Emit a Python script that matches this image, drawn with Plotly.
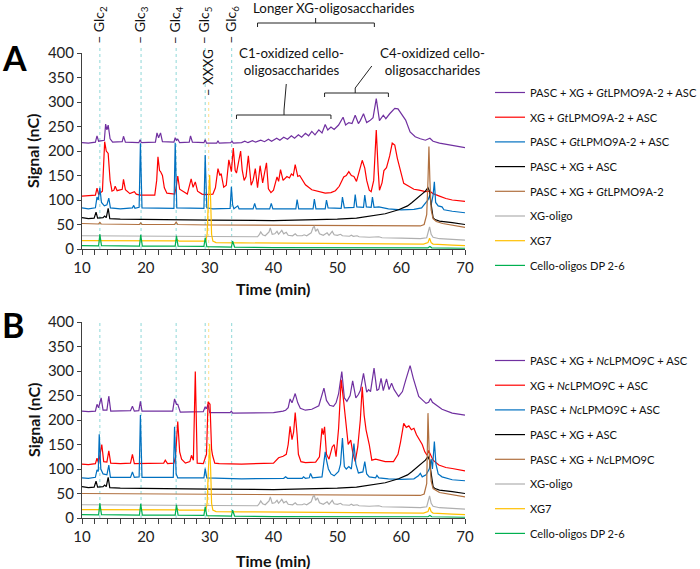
import plotly.graph_objects as go

# ---------------- data (time min, signal nC) ----------------
A_PURPLE = [(10,217),(11,216),(12.1,218),(12.35,231),(12.6,220),(13.5,222),(13.7,255),(13.9,243),(14.1,253),(14.4,225),(14.8,218),(16.3,219),(16.5,230),(16.8,218),(18.9,217),(19.1,223),(19.3,217),(21.5,218),(21.75,237),(22.0,227),(22.3,237),(22.6,219),(24.4,218),(24.6,227),(24.8,222),(25.0,224),(25.3,217),(26.8,218),(27.0,231),(27.3,218),(29.1,217),(29.3,223),(29.5,216),(31.1,216),(31.3,221),(31.5,216),(33.3,217),(33.5,220),(33.7,216),(35,217),(35.5,220),(36,217),(36.7,221),(37.2,218),(38.0,222),(38.6,219),(39.2,224),(39.7,220),(40.5,226),(41,222),(41.6,228),(42.2,224),(42.8,231),(43.3,226),(43.9,233),(44.4,228),(45,236),(45.5,231),(46,240),(46.5,233),(47.1,243),(47.6,237),(48.1,254),(48.5,243),(49.0,249),(49.5,244),(50.2,253),(50.9,269),(51.3,253),(51.8,258),(52.3,256),(52.8,273),(53.3,256),(53.6,262),(54.1,276),(54.6,258),(55.1,262),(55.6,268),(56.1,307),(56.6,262),(57.2,273),(57.6,266),(58.2,276),(59.0,287),(59.5,286),(60.0,276),(60.7,263),(61.4,239),(62.2,229),(63.0,225),(63.8,222),(64.5,226),(65.0,220),(66,216),(67,214),(68,212),(69,209),(70,207)]
A_RED = [(10,108),(11,109),(12.1,110),(12.35,124),(12.6,112),(13.2,118),(13.55,219),(13.8,200),(14.1,195),(14.4,140),(14.7,118),(15.0,120),(15.2,128),(15.5,119),(16.3,122),(16.5,142),(16.8,121),(17.5,113),(18.2,117),(18.5,112),(19.1,110),(21.4,110),(21.7,140),(21.9,188),(22.15,160),(22.3,158),(22.6,150),(22.9,125),(23.3,114),(24.5,112),(24.75,125),(25.0,149),(25.3,122),(26.5,112),(26.9,130),(27.1,143),(27.4,126),(27.75,137),(28.1,118),(28.8,112),(29.2,111),(30.5,112),(30.9,125),(31.3,164),(31.6,150),(31.8,154),(32.2,126),(32.6,130),(33.0,182),(33.25,165),(33.4,158),(33.7,206),(34.0,160),(34.2,155),(34.5,180),(34.85,200),(35.1,161),(35.4,140),(35.7,148),(36.06,190),(36.5,130),(36.8,140),(37.15,164),(37.5,125),(37.9,170),(38.3,135),(38.9,176),(39.2,123),(39.6,115),(40.0,120),(40.55,147),(40.8,138),(41.1,162),(41.5,140),(42.1,148),(42.5,145),(42.8,153),(43.1,150),(43.4,172),(43.8,148),(44.1,150),(44.5,141),(45.0,131),(46.0,121),(47,117),(48.1,114),(49.0,115),(49.7,119),(50.3,128),(50.6,135),(51.0,147),(51.4,150),(51.8,158),(52.2,150),(52.6,148),(53.0,138),(53.5,165),(53.9,181),(54.3,165),(54.6,140),(55.0,120),(55.3,117),(55.7,140),(56.1,243),(56.4,160),(56.6,120),(57.0,135),(57.3,160),(57.7,166),(58.2,190),(58.6,216),(59.0,212),(59.4,185),(59.9,160),(60.4,134),(61.2,128),(62.0,122),(62.8,120),(63.8,117),(64.5,118),(65.0,113),(66,108),(67,103),(68,100),(69,98),(70,97)]
A_BLUE = [(10,84),(11,82),(12.1,84),(12.35,106),(12.55,100),(12.8,125),(13.05,95),(13.5,88),(13.9,90),(14.2,104),(14.45,84),(16,82),(17.9,84),(18.1,89),(18.3,83),(18.95,85),(19.15,216),(19.4,84),(24.4,83),(24.6,217),(24.85,84),(29.1,83),(29.3,192),(29.55,84),(30.5,82),(33.2,83),(33.4,127),(33.6,90),(33.8,82),(34.4,88),(34.6,82),(36.8,82),(37.05,93),(37.3,82),(39.4,82),(39.65,93),(39.9,82),(43.5,82),(43.7,101),(43.95,82),(46.2,82),(46.4,102),(46.65,82),(48.1,82),(48.3,100),(48.55,84),(50.6,83),(50.8,106),(51.1,84),(52.6,85),(52.8,111),(53.05,86),(54.1,85),(54.3,110),(54.55,86),(55.3,85),(55.5,106),(55.75,85),(56.5,86),(58,82),(60,80),(62,81),(63.2,84),(63.8,93),(64.2,100),(64.5,110),(64.7,90),(65.0,110),(65.2,137),(65.4,95),(65.8,88),(66.4,86),(66.7,80),(68,77),(70,74)]
A_BROWN = [(10,52),(12.6,51),(12.8,54),(13.0,51),(19.0,50),(19.2,53),(19.4,50),(24.5,50),(24.75,55),(25.0,50),(30,49),(40,48),(50,47),(60,46),(62,46),(63,47),(63.6,50),(64.0,70),(64.2,140),(64.35,209),(64.5,140),(64.7,80),(65.0,62),(65.5,56),(66.5,52),(68,48),(70,44)]

B_PURPLE = [(10,218),(11,217),(12.1,218),(12.35,232),(12.6,225),(12.8,235),(13.0,245),(13.3,220),(13.9,220),(14.2,249),(14.5,218),(17.6,219),(17.9,228),(18.2,218),(18.9,219),(19.15,238),(19.4,218),(24.2,218),(24.5,243),(24.8,232),(25.0,232),(25.4,216),(29.0,217),(29.3,227),(29.5,223),(29.75,232),(30.0,215),(33.2,215),(33.4,218),(33.6,214),(40,215),(41.5,218),(41.9,220),(42.3,225),(42.6,243),(42.9,235),(43.4,254),(43.8,235),(44.2,224),(45,220),(46,222),(47.1,229),(47.5,245),(47.9,265),(48.3,240),(48.8,230),(49.4,228),(49.8,235),(50.2,254),(50.7,299),(51.1,245),(51.5,238),(52.0,250),(52.4,280),(52.9,245),(53.3,252),(53.6,260),(54.1,295),(54.6,257),(54.9,262),(55.2,258),(55.75,306),(56.2,260),(56.5,263),(56.85,285),(57.2,260),(57.7,284),(58.1,262),(58.5,275),(58.9,262),(59.6,248),(60.2,258),(60.7,281),(61.4,311),(61.9,285),(62.3,265),(62.75,248),(63.4,240),(63.9,234),(64.3,236),(64.6,244),(64.9,236),(65.3,232),(66.4,222),(68,214),(70,210)]
B_RED = [(10,110),(11,109),(12.1,111),(12.35,122),(12.6,112),(13.1,150),(13.4,115),(13.9,114),(14.2,137),(14.5,112),(16,111),(17.6,112),(17.9,130),(18.2,111),(22.8,112),(23.05,118),(23.4,111),(24.4,112),(24.65,125),(25.0,197),(25.3,135),(25.6,120),(26.2,112),(26.9,115),(27.15,128),(27.45,118),(27.75,299),(28.05,112),(29.0,111),(29.5,130),(29.75,237),(30.05,232),(30.3,140),(30.45,128),(30.8,112),(31.5,111),(35,110),(40,112),(40.8,123),(41.5,126),(42.0,130),(42.3,150),(42.6,187),(42.9,160),(43.15,175),(43.4,215),(43.7,170),(43.9,130),(44.3,115),(45,113),(46.6,114),(47.2,125),(47.6,183),(47.8,170),(48.0,186),(48.3,130),(48.7,120),(49.2,145),(49.5,150),(49.8,125),(50.2,183),(50.6,282),(51.0,237),(51.4,190),(51.7,150),(52.1,159),(52.4,135),(52.8,115),(53.2,145),(53.6,200),(53.9,268),(54.2,210),(54.5,180),(55.0,150),(55.4,118),(56.0,120),(56.6,118),(57.5,115),(58.8,115),(59.5,130),(59.9,155),(60.4,193),(60.8,185),(61.2,188),(61.6,180),(62.0,183),(62.4,170),(62.75,162),(63.3,150),(63.7,135),(64.05,128),(64.3,138),(64.6,130),(65.0,118),(65.9,108),(67,103),(68,101),(70,96)]
B_BLUE = [(10,82),(11,81),(12.1,83),(12.35,98),(12.55,95),(12.7,171),(12.95,100),(13.3,90),(13.9,88),(14.2,108),(14.45,83),(17.6,83),(17.9,94),(18.2,83),(18.95,84),(19.15,210),(19.4,83),(24.3,83),(24.5,186),(24.75,90),(25.0,82),(29.1,82),(29.3,101),(29.55,82),(35,80),(41.6,81),(41.9,84),(42.2,81),(44.5,81),(44.7,84),(45.0,81),(45.6,82),(45.8,91),(46.1,82),(47.6,84),(47.9,110),(48.1,135),(48.3,118),(48.6,100),(49.0,90),(49.5,86),(50.2,95),(50.5,110),(50.8,163),(51.1,105),(51.4,100),(51.8,105),(52.2,100),(52.6,152),(52.9,110),(53.3,92),(54.0,94),(54.3,115),(54.6,90),(55.0,84),(56.0,82),(56.2,87),(56.5,82),(58,80),(60,79),(62,80),(62.7,86),(63.0,91),(63.3,84),(63.9,88),(64.4,100),(64.7,120),(64.9,100),(65.2,156),(65.45,110),(65.8,90),(66.4,84),(68,78),(70,76)]
B_BROWN = [(10,50),(20,49),(30,48),(40,47),(50,46),(60,45),(63,46),(63.6,49),(64.0,70),(64.2,214),(64.4,130),(64.7,75),(65.0,60),(66,52),(68,47),(70,43)]

CTRL_BLACK = [(10,64),(11,62),(11.9,63),(12.2,75),(12.45,63),(13.3,64),(13.55,67),(13.8,64),(14.1,83),(14.35,62),(16,61),(20,60),(25,60),(30,59),(40,58),(45,59),(50,61),(53,63),(55.4,67),(57.5,72),(59.6,80),(61,88),(61.7,95),(62.5,104),(63.3,112),(63.8,118),(64.2,125),(64.45,118),(64.6,100),(64.8,75),(65.0,64),(65.3,60),(66,57),(68,54),(70,50)]
XG_OLIGO = [(10,27),(20,26),(30,25),(37.5,25),(37.8,30),(38.0,35),(38.3,29),(38.7,27),(39.3,35),(39.5,43),(39.8,30),(40.2,31),(40.55,36),(40.8,30),(41.3,38),(41.6,31),(42.0,34),(42.3,28),(43.0,27),(43.4,31),(43.7,27),(44.5,27),(44.8,29),(45.2,27),(45.9,33),(46.2,44),(46.4,46),(46.6,36),(46.9,41),(47.2,31),(47.8,28),(48.4,33),(48.7,28),(49.2,36),(49.5,29),(50,28),(50.5,30),(50.8,27),(51.9,26),(52.2,28),(52.5,26),(53.1,27),(53.4,25),(55,24),(56.5,25),(57,23),(60,22),(63,21),(64.0,23),(64.3,35),(64.45,45),(64.7,30),(65.0,24),(66,21),(68,19),(70,18)]
XG7 = [(10,17),(20,16.5),(24.6,16.5),(24.9,19),(25.2,16),(29.4,16),(29.6,30),(29.8,100),(30.0,151),(30.15,100),(30.3,30),(30.5,16),(31,13),(35,12.5),(45,12),(55,11),(63.5,10),(64.2,13),(64.45,22),(64.7,13),(65,10),(68,8),(70,7)]
CELLO = [(10,7),(12.6,6.5),(12.8,30),(13.05,7),(19.0,6),(19.2,29),(19.45,6),(24.6,6),(24.8,27),(25.05,6),(29.1,5.5),(29.3,23),(29.55,5),(33.4,4),(33.6,16),(33.9,4),(40,3),(50,2.5),(60,2),(64.2,2.5),(64.5,5),(64.8,2.5),(70,1.5)]

NAMES_A = ["PASC + XG + <i>Gt</i>LPMO9A-2 + ASC", "XG + <i>Gt</i>LPMO9A-2 + ASC",
           "PASC + <i>Gt</i>LPMO9A-2 + ASC", "PASC + XG + ASC",
           "PASC + XG + <i>Gt</i>LPMO9A-2", "XG-oligo", "XG7", "Cello-oligos DP 2-6"]
NAMES_B = ["PASC + XG + <i>Nc</i>LPMO9C + ASC", "XG + <i>Nc</i>LPMO9C + ASC",
           "PASC + <i>Nc</i>LPMO9C + ASC", "PASC + XG + ASC",
           "PASC + XG + <i>Nc</i>LPMO9C", "XG-oligo", "XG7", "Cello-oligos DP 2-6"]
COLORS = ["#7030A0", "#FF0000", "#0070C0", "#000000", "#B0703F", "#AFAFAF", "#FFC000", "#00B050"]

STANDARDS = [("Glc<sub>2</sub>", 12.8), ("Glc<sub>3</sub>", 19.25), ("Glc<sub>4</sub>", 24.75),
             ("Glc<sub>5</sub>", 29.3), ("Glc<sub>6</sub>", 33.45)]
XXXG_T = 29.85

SERIES_A = [A_PURPLE, A_RED, A_BLUE, CTRL_BLACK, A_BROWN, XG_OLIGO, XG7, CELLO]
SERIES_B = [B_PURPLE, B_RED, B_BLUE, CTRL_BLACK, B_BROWN, XG_OLIGO, XG7, CELLO]

# ---------------- figure ----------------
W, H = 700, 569
FONT = "Lato"
def px(x): return x / W
def py(y): return 1 - y / H

fig = go.Figure()
for series, names, xa, ya, leg in [(SERIES_A, NAMES_A, "x", "y", "legend"),
                                   (SERIES_B, NAMES_B, "x2", "y2", "legend2")]:
    for i, (s, n, c) in enumerate(zip(series, names, COLORS)):
        fig.add_trace(go.Scatter(
            x=[p[0] for p in s], y=[p[1] for p in s], mode="lines", name=n,
            line=dict(color=c, width=1.2), xaxis=xa, yaxis=ya, legend=leg,
            legendgroup=f"{leg}{i}", hoverinfo="skip"))

axis_common = dict(showline=True, linecolor="#404040", linewidth=1, ticks="outside",
                   tickcolor="#404040", showgrid=False, zeroline=False, automargin=False,
                   tickfont=dict(family=FONT, size=15, color="#222"))
xcommon = dict(axis_common, range=[10, 70], tickvals=[10, 20, 30, 40, 50, 60, 70], ticklen=5,
               minor=dict(dtick=2, ticks="outside", ticklen=5, tickcolor="#404040"))
ycommon = dict(axis_common, range=[0, 400], dtick=50, ticklen=4)

LEGFONT = dict(family=FONT, size=11.1, color="#111")
fig.update_layout(
    width=W, height=H, margin=dict(l=0, r=0, t=0, b=0, autoexpand=False),
    paper_bgcolor="white", plot_bgcolor="white",
    xaxis=dict(xcommon, domain=[px(82), px(465)], anchor="y"),
    yaxis=dict(ycommon, domain=[py(249), py(53)], anchor="x"),
    xaxis2=dict(xcommon, domain=[px(82), px(465)], anchor="y2"),
    yaxis2=dict(ycommon, domain=[py(518), py(322)], anchor="x2"),
    legend=dict(x=px(490), y=py(78), xanchor="left", yanchor="top", tracegroupgap=5.7,
                font=LEGFONT, bgcolor="rgba(0,0,0,0)"),
    legend2=dict(x=px(490), y=py(346), xanchor="left", yanchor="top", tracegroupgap=5.7,
                 font=LEGFONT, bgcolor="rgba(0,0,0,0)"),
)

shapes = []
annos = []
LBL = dict(family=FONT, size=14, color="#111")
for (lab, t) in STANDARDS:
    shapes.append(dict(type="line", xref="x", yref="paper", x0=t, x1=t, y0=py(249), y1=py(47),
                       line=dict(color="#8FD8D8", width=1, dash="dot"), layer="below"))
    shapes.append(dict(type="line", xref="x2", yref="paper", x0=t, x1=t, y0=py(518), y1=py(322),
                       line=dict(color="#8FD8D8", width=1, dash="dot"), layer="below"))
    annos.append(dict(text="– " + lab, x=t, xref="x", y=py(46), yref="paper", xanchor="center",
                      yanchor="bottom", textangle=-90, showarrow=False, font=LBL))
shapes.append(dict(type="line", xref="x", yref="paper", x0=XXXG_T, x1=XXXG_T, y0=py(249), y1=py(100),
                   line=dict(color="#FFE08A", width=1, dash="dot"), layer="below"))
shapes.append(dict(type="line", xref="x2", yref="paper", x0=XXXG_T, x1=XXXG_T, y0=py(518), y1=py(322),
                   line=dict(color="#FFE08A", width=1, dash="dot"), layer="below"))
annos.append(dict(text="– XXXG", x=XXXG_T, xref="x", y=py(98), yref="paper", xanchor="center",
                  yanchor="bottom", textangle=-90, showarrow=False, font=dict(LBL, size=13.5)))

def bracket(t0, t1, tc, ypix, tick=4, up=5):
    y = py(ypix); yd = py(ypix + tick); yu = py(ypix - up)
    return dict(type="path", xref="x", yref="paper",
                path=f"M {t0},{yd} L {t0},{y} L {t1},{y} L {t1},{yd} M {tc},{y} L {tc},{yu}",
                line=dict(color="#222", width=1))
shapes.append(bracket(37.5, 55.8, 46.6, 23))
shapes.append(bracket(34.2, 49.0, 41.65, 115))
shapes.append(dict(type="line", xref="x", yref="paper", x0=41.65, x1=42.0, y0=py(110), y1=py(84),
                   line=dict(color="#222", width=1)))
shapes.append(bracket(48.0, 58.0, 52.8, 93))
shapes.append(dict(type="line", xref="x", yref="paper", x0=52.8, x1=55.4, y0=py(88), y1=py(66),
                   line=dict(color="#222", width=1)))

NOTE = dict(family=FONT, size=13.3, color="#111")
def note(text, x, y, font, **kw):
    d = dict(text=text, x=px(x), y=py(y), xref="paper", yref="paper", xanchor="center",
             yanchor="middle", showarrow=False, font=font)
    d.update(kw)
    annos.append(d)

note("Longer XG-oligosaccharides", 334, 8, NOTE)
note("C1-oxidized cello-<br>oligosaccharides", 291, 61, NOTE)
note("C4-oxidized cello-<br>oligosaccharides", 432, 61, NOTE)
note("<b>A</b>", 0, 57, dict(family=FONT, size=34, color="#000"), xanchor="left")
note("<b>B</b>", 0, 324, dict(family=FONT, size=34, color="#000"), xanchor="left")
TT = dict(family=FONT, size=16, color="#111")
for yc in (288, 560):
    note("<b>Time (min)</b>", 273, yc, TT)
for yc in (151, 420):
    note("<b>Signal (nC)</b>", 33, yc, TT, textangle=-90)

fig.update_layout(shapes=shapes, annotations=annos)
fig.write_html("out.html", config={"displayModeBar": False},
               post_script="document.body.style.margin='0';")
